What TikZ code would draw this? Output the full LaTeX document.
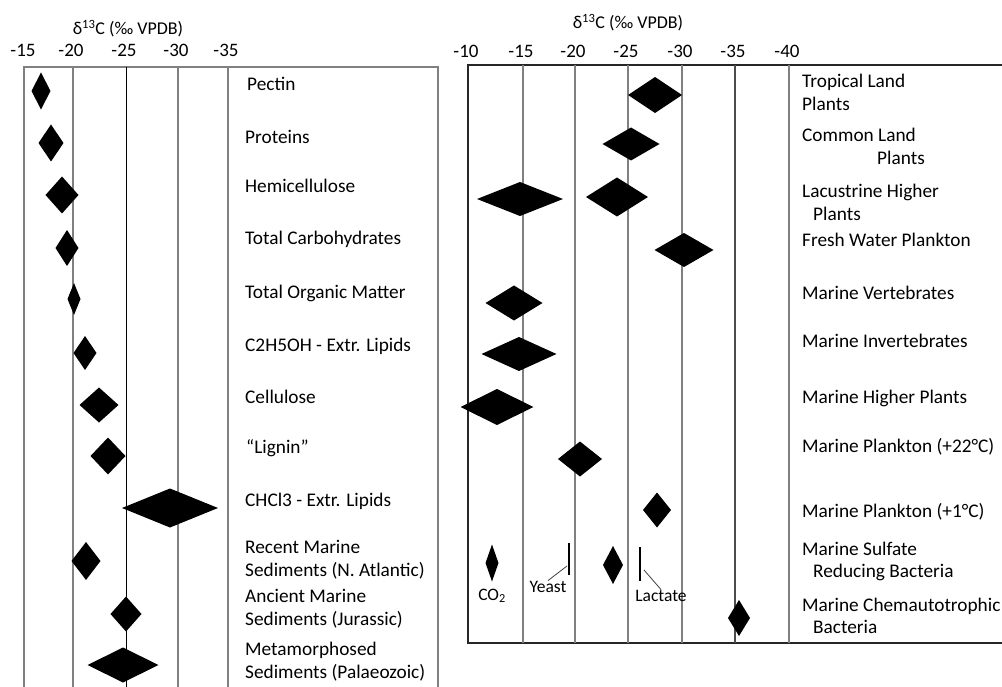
\documentclass[tikz,border=0pt]{standalone}
\usepackage{fontspec}
\setmainfont{Carlito}
\begin{document}
\begin{tikzpicture}[x=1pt,y=-1pt,
  gitter/.style={black!50,line width=1.6pt},
  rand/.style={black!85,line width=1.6pt},
  zeiger/.style={black!75,line width=0.8pt},
  stoff/.style={anchor=west,inner sep=0pt,align=left,font=\fontsize{19.3}{22.5}\selectfont},
  skala/.style={inner sep=0pt,font=\fontsize{19}{21}\selectfont},
  titel/.style={inner sep=0pt,font=\fontsize{18}{20}\selectfont},
  klein/.style={inner sep=0pt,anchor=base,font=\fontsize{17.5}{19}\selectfont}]
\useasboundingbox (0,0) rectangle (1002,687);
% linkes Diagramm: Rahmen und Gitterlinien bei -15, -20, -25, -30, -35
\draw[gitter] (24,687) -- (24,67) -- (438,67) -- (438,687);
\draw[gitter] (73,67) -- (73,687);
\draw[black,line width=1pt] (126,67) -- (126,687);
\draw[gitter] (178,67) -- (178,687);
\draw[gitter] (228,67) -- (228,687);
\node[titel] (ltitel) at (128,29) {δ\textsuperscript{13}C (‰ VPDB)};
\node[skala] (l15) at (23,50) {-15};
\node[skala] (l20) at (71,50) {-20};
\node[skala] (l25) at (124,50) {-25};
\node[skala] (l30) at (176,50) {-30};
\node[skala] (l35) at (226,50) {-35};
% Messwerte links (Rauten: Mitte, halbe Breite, halbe Hoehe)
\fill (41,91) +(-9.5,0) -- +(0,-18.5) -- +(9.5,0) -- +(0,18.5) -- cycle;
\fill (51,143) +(-12.5,0) -- +(0,-18.5) -- +(12.5,0) -- +(0,18.5) -- cycle;
\fill (62,195) +(-16.5,0) -- +(0,-18.5) -- +(16.5,0) -- +(0,18.5) -- cycle;
\fill (67,248) +(-11.5,0) -- +(0,-18) -- +(11.5,0) -- +(0,18) -- cycle;
\fill (74,299) +(-6.5,0) -- +(0,-16) -- +(6.5,0) -- +(0,16) -- cycle;
\fill (85,353) +(-11.5,0) -- +(0,-17) -- +(11.5,0) -- +(0,17) -- cycle;
\fill (99,405) +(-19.5,0) -- +(0,-17.5) -- +(19.5,0) -- +(0,17.5) -- cycle;
\fill (108,456) +(-17.5,0) -- +(0,-18.5) -- +(17.5,0) -- +(0,18.5) -- cycle;
\fill (170,508) +(-48,0) -- +(0,-19.5) -- +(48,0) -- +(0,19.5) -- cycle;
\fill (86,561) +(-14.5,0) -- +(0,-19) -- +(14.5,0) -- +(0,19) -- cycle;
\fill (126,614) +(-15.5,0) -- +(0,-17.5) -- +(15.5,0) -- +(0,17.5) -- cycle;
\fill (123,665) +(-35.5,0) -- +(0,-17.5) -- +(35.5,0) -- +(0,17.5) -- cycle;
% Beschriftung links
\node[stoff] (pektin) at (247,84) {Pectin};
\node[stoff] (proteine) at (245,137) {Proteins};
\node[stoff] (hemi) at (245,186) {Hemicellulose};
\node[stoff] (kohlenhydrate) at (245,239) {Total Carbohydrates};
\node[stoff] (organik) at (245,293) {Total Organic Matter};
\node[stoff] (ethanol) at (245,346) {C2H5OH - Extr. Lipids};
\node[stoff] (cellulose) at (245,397) {Cellulose};
\node[stoff] (lignin) at (246,448) {“Lignin”};
\node[stoff] (chloroform) at (245,501) {CHCl3 - Extr. Lipids};
\node[stoff] (rezent) at (245,559.5) {Recent Marine\\Sediments (N. Atlantic)};
\node[stoff] (jura) at (245,608.5) {Ancient Marine\\Sediments (Jurassic)};
\node[stoff] (palaeo) at (245,661.5) {Metamorphosed\\Sediments (Palaeozoic)};
% rechtes Diagramm: Rahmen und Gitterlinien bei -10 bis -40
\draw[rand] (1002,65) -- (468,65) -- (468,643) -- (1002,643);
\draw[gitter] (523,65) -- (523,643);
\draw[gitter] (575,65) -- (575,643);
\draw[gitter] (628,65) -- (628,643);
\draw[gitter] (682,65) -- (682,643);
\draw[gitter,black!70] (735,65) -- (735,643);
\draw[gitter] (789,65) -- (789,643);
\node[titel] (rtitel) at (628,23) {δ\textsuperscript{13}C (‰ VPDB)};
\node[skala] (r10) at (466,51) {-10};
\node[skala] (r15) at (521,51) {-15};
\node[skala] (r20) at (573,51) {-20};
\node[skala] (r25) at (626,51) {-25};
\node[skala] (r30) at (680,51) {-30};
\node[skala] (r35) at (733,51) {-35};
\node[skala] (r40) at (787,51) {-40};
% Messwerte rechts
\fill (655,95) +(-27,0) -- +(0,-18) -- +(27,0) -- +(0,18) -- cycle;
\fill (631,144) +(-28.5,0) -- +(0,-16.5) -- +(28.5,0) -- +(0,16.5) -- cycle;
\fill (520,199) +(-43,0) -- +(0,-17) -- +(43,0) -- +(0,17) -- cycle;
\fill (617,197) +(-31,0) -- +(0,-19.5) -- +(31,0) -- +(0,19.5) -- cycle;
\fill (684,250) +(-29.5,0) -- +(0,-17) -- +(29.5,0) -- +(0,17) -- cycle;
\fill (514,303) +(-28.5,0) -- +(0,-17.5) -- +(28.5,0) -- +(0,17.5) -- cycle;
\fill (519,354) +(-37.5,0) -- +(0,-17) -- +(37.5,0) -- +(0,17) -- cycle;
\fill (497,407) +(-36.5,0) -- +(0,-18) -- +(36.5,0) -- +(0,18) -- cycle;
\fill (580,459) +(-22,0) -- +(0,-17.5) -- +(22,0) -- +(0,17.5) -- cycle;
\fill (657,510) +(-14,0) -- +(0,-17.5) -- +(14,0) -- +(0,17.5) -- cycle;
\fill (492,563) +(-6.5,0) -- +(0,-18.5) -- +(6.5,0) -- +(0,18.5) -- cycle;
\fill (613,565) +(-10,0) -- +(0,-19) -- +(10,0) -- +(0,19) -- cycle;
\fill (739,618) +(-11,0) -- +(0,-18) -- +(11,0) -- +(0,18) -- cycle;
% Hefe und Lactat als Striche mit Zeigern
\draw[line width=2pt] (569,543) -- (569,575);
\draw[line width=2pt] (640,547) -- (640,581);
\node[klein] (co2) at (492,600) {CO\textsubscript{2}};
\node[klein] (hefe) at (548,592) {Yeast};
\node[klein] (lactat) at (661,601) {Lactate};
\coordinate (hefestrich) at (567,566);
\coordinate (lactatstrich) at (644,570);
\draw[zeiger] (hefe.north) -- (hefestrich);
\draw[zeiger] (lactatstrich) -- (lactat.north);
% Beschriftung rechts
\node[stoff] (tropisch) at (802,92.5) {Tropical Land\\Plants};
\node[stoff] (land) at (802,146.5) {Common Land\\\hspace*{75pt}Plants};
\node[stoff] (see) at (802,202.5) {Lacustrine Higher\\\hspace*{11pt}Plants};
\node[stoff] (suesswasser) at (802,240) {Fresh Water Plankton};
\node[stoff] (wirbeltiere) at (802,293) {Marine Vertebrates};
\node[stoff] (wirbellose) at (802,341) {Marine Invertebrates};
\node[stoff] (meerpflanzen) at (802,398) {Marine Higher Plants};
\node[stoff] (planktonwarm) at (802,447) {Marine Plankton (+22°C)};
\node[stoff] (planktonkalt) at (802,512) {Marine Plankton (+1°C)};
\node[stoff] (sulfat) at (802,561.5) {Marine Sulfate\\\hspace*{11pt}Reducing Bacteria};
\node[stoff] (chemo) at (802,616) {Marine Chemautotrophic\\\hspace*{11pt}Bacteria};
\end{tikzpicture}
\end{document}
